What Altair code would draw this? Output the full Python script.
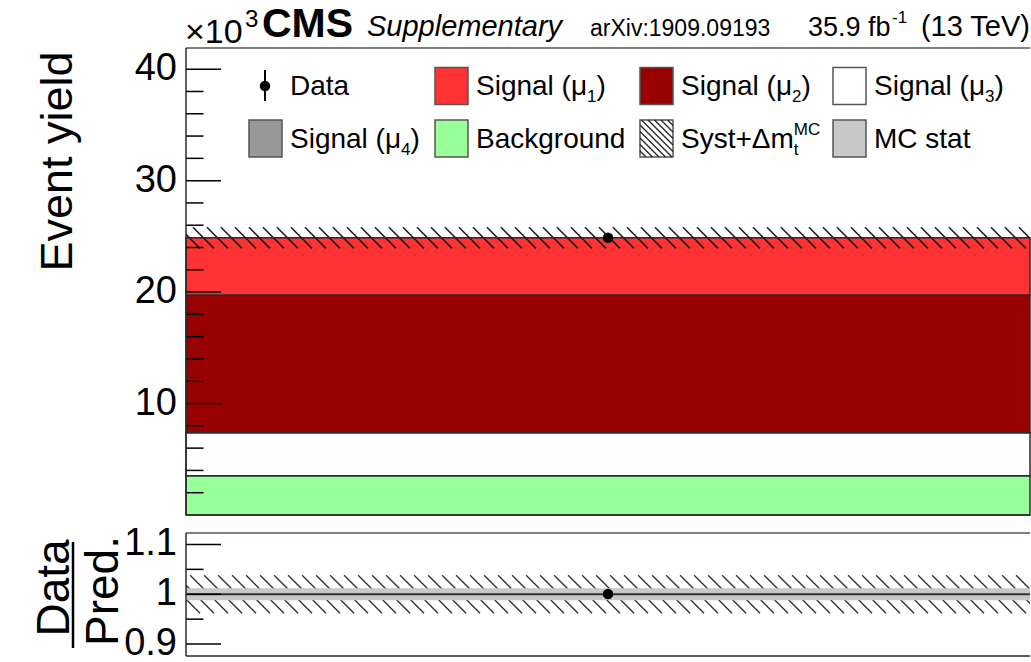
import altair as alt
import numpy as np
import pandas as pd

FONT = "Liberation Sans"

# ---------------- single-bin yields (units of 10^3 events), stacked bottom -> top
processes = ["Background", "Signal (μ3)", "Signal (μ2)", "Signal (μ1)"]
yields = [3.52, 3.86, 12.35, 5.14]
process_colors = ["#99ff99", "#ffffff", "#990000", "#ff3333"]
data_yield = 24.88
syst_rel = 0.038      # Syst + Δm_t^MC (relative)
mcstat_rel = 0.012    # MC statistical uncertainty (relative)

# axis ranges and ticks
y_max = 41.9
ratio_min, ratio_max = 0.876, 1.123
y_major = [10, 20, 30, 40]
y_major_labels = ["10", "20", "30", "40"]
y_minor = [2, 4, 6, 8, 12, 14, 16, 18, 22, 24, 26, 28, 32, 34, 36, 38]
r_major = [0.9, 1.0, 1.1]
r_major_labels = ["0.9", "1", "1.1"]
r_minor = [0.95, 1.05]

# ---------------- layout (pixels)
W, H_TOP, H_RAT, GAP = 844, 467, 123, 18
LEFT, TOP = 186, 48
TICK_MAJ, TICK_MIN = 35, 17.5
HATCH_STEP = 14
EDGE = "#2b2b2b"

total = float(np.sum(yields))
data_err = np.sqrt(data_yield * 1000.0) / 1000.0
hi_cum = np.cumsum(yields)
lo_cum = hi_cum - np.array(yields)

xs = alt.Scale(domain=[0, 1], nice=False, zero=False)
ys = alt.Scale(domain=[0, y_max], nice=False, zero=False)
rs = alt.Scale(domain=[ratio_min, ratio_max], nice=False, zero=False)


def one():
    return pd.DataFrame({"k": [0]})


def hatch_lines(lo, hi, band_px):
    """Back-slash hatch segments covering [lo, hi] across the full bin."""
    dxu = band_px / W
    starts = np.arange(-dxu, 1.0, HATCH_STEP / W)
    return pd.DataFrame({"xa": starts, "xb": starts + dxu, "ya": hi, "yb": lo})


def frame(h):
    top = alt.Chart(one()).mark_rule(color="#555", strokeWidth=1.5).encode(
        x=alt.value(0), x2=alt.value(W), y=alt.value(0))
    bot = alt.Chart(one()).mark_rule(color=EDGE, strokeWidth=1.5).encode(
        x=alt.value(0), x2=alt.value(W), y=alt.value(h))
    left = alt.Chart(one()).mark_rule(color=EDGE, strokeWidth=1.5).encode(
        x=alt.value(0), y=alt.value(0), y2=alt.value(h))
    return [top, bot, left]


def ticks(vals, scale, length):
    return alt.Chart(pd.DataFrame({"v": vals})).mark_rule(color="black", strokeWidth=1.5).encode(
        x=alt.value(0), x2=alt.value(length), y=alt.Y("v:Q", scale=scale, axis=None))


def tick_labels(vals, labels, scale):
    return alt.Chart(pd.DataFrame({"v": vals, "t": labels})).mark_text(
        align="right", baseline="middle", font=FONT, fontSize=38, color="black").encode(
        x=alt.value(-9), y=alt.Y("v:Q", scale=scale, axis=None), text="t:N")


def texts(rows, **kw):
    df = pd.DataFrame(rows, columns=["px", "py", "t", "fs"])
    opts = dict(font=FONT, color="black", align="left", baseline="alphabetic")
    opts.update(kw)
    return alt.Chart(df).mark_text(**opts).encode(
        x=alt.X("px:Q", scale=None), y=alt.Y("py:Q", scale=None),
        text="t:N", size=alt.Size("fs:Q", scale=None, legend=None))


# ---------------- main panel
stack = pd.DataFrame({"process": processes, "lo": lo_cum, "hi": hi_cum, "x0": 0.0, "x1": 1.0})
bars = alt.Chart(stack).mark_rect(stroke=EDGE, strokeWidth=1.5).encode(
    x=alt.X("x0:Q", scale=xs, axis=None), x2="x1:Q",
    y=alt.Y("lo:Q", scale=ys, axis=None), y2="hi:Q",
    color=alt.Color("process:N", scale=alt.Scale(domain=processes, range=process_colors), legend=None))

band_lo, band_hi = total * (1 - syst_rel), total * (1 + syst_rel)
band_px = (band_hi - band_lo) / y_max * H_TOP
hatch_top = alt.Chart(hatch_lines(band_lo, band_hi, band_px)).mark_rule(
    clip=True, color="#1e1e1e", strokeWidth=1.6).encode(
    x=alt.X("xa:Q", scale=xs, axis=None), x2="xb:Q",
    y=alt.Y("ya:Q", scale=ys, axis=None), y2="yb:Q")

pt = pd.DataFrame({"x": [0.5], "y": [data_yield], "lo": [data_yield - data_err], "hi": [data_yield + data_err]})
data_err_top = alt.Chart(pt).mark_rule(color="black", strokeWidth=2).encode(
    x=alt.X("x:Q", scale=xs, axis=None), y=alt.Y("lo:Q", scale=ys, axis=None), y2="hi:Q")
data_pt_top = alt.Chart(pt).mark_point(filled=True, color="black", opacity=1, size=110).encode(
    x=alt.X("x:Q", scale=xs, axis=None), y=alt.Y("y:Q", scale=ys, axis=None))

# legend: 4 columns x 2 rows
col_box = [63, 249, 454, 647]
row_mid = [38, 90.5]
BOX_W, BOX_H = 33, 37
legend_boxes = pd.DataFrame({
    "bx": [col_box[1], col_box[2], col_box[3], col_box[0], col_box[1], col_box[2], col_box[3]],
    "by": [row_mid[0], row_mid[0], row_mid[0], row_mid[1], row_mid[1], row_mid[1], row_mid[1]],
    "fill": ["#ff3333", "#990000", "#ffffff", "#999999", "#99ff99", "#ffffff", "#c8c8c8"],
})
legend_boxes["x0"] = legend_boxes["bx"]
legend_boxes["x1"] = legend_boxes["bx"] + BOX_W
legend_boxes["y0"] = legend_boxes["by"] - BOX_H / 2
legend_boxes["y1"] = legend_boxes["by"] + BOX_H / 2
leg_rects = alt.Chart(legend_boxes).mark_rect(stroke="#555", strokeWidth=1.5).encode(
    x=alt.X("x0:Q", scale=None), x2="x1:Q", y=alt.Y("y0:Q", scale=None), y2="y1:Q",
    fill=alt.Fill("fill:N", scale=None))

# hatch inside the Syst legend box
hx0, hy0 = col_box[2], row_mid[1] - BOX_H / 2
segs = []
for c in np.arange(-BOX_H + 6, BOX_W, 6.5):
    t0 = max(0.0, -c)
    t1 = min(BOX_H, BOX_W - c)
    if t1 - t0 > 1:
        segs.append((hx0 + c + t0, hy0 + t0, hx0 + c + t1, hy0 + t1))
leg_hatch = alt.Chart(pd.DataFrame(segs, columns=["xa", "ya", "xb", "yb"])).mark_rule(
    color="#222", strokeWidth=1.2).encode(
    x=alt.X("xa:Q", scale=None), y=alt.Y("ya:Q", scale=None), x2="xb:Q", y2="yb:Q")

leg_data_bar = alt.Chart(one()).mark_rule(color="black", strokeWidth=2).encode(
    x=alt.value(79), y=alt.value(22), y2=alt.value(53))
leg_data_pt = alt.Chart(one()).mark_point(
    filled=True, color="black", opacity=1, size=110).encode(x=alt.value(79), y=alt.value(38))

FS = 28
SUB = 17
rb = [47, 100]          # legend text baselines
tx = [c + 41 for c in col_box]
w_sig = 3.966 * FS      # width of "Signal (μ"
w_sub = 0.556 * SUB
w_syst = 4.03 * FS      # width of "Syst+Δm"
legend_text = texts([
    (tx[0], rb[0], "Data", FS),
    (tx[1], rb[0], "Signal (μ", FS), (tx[1] + w_sig, rb[0] + 7, "1", SUB), (tx[1] + w_sig + w_sub, rb[0], ")", FS),
    (tx[2], rb[0], "Signal (μ", FS), (tx[2] + w_sig, rb[0] + 7, "2", SUB), (tx[2] + w_sig + w_sub, rb[0], ")", FS),
    (tx[3], rb[0], "Signal (μ", FS), (tx[3] + w_sig, rb[0] + 7, "3", SUB), (tx[3] + w_sig + w_sub, rb[0], ")", FS),
    (tx[0], rb[1], "Signal (μ", FS), (tx[0] + w_sig, rb[1] + 7, "4", SUB), (tx[0] + w_sig + w_sub, rb[1], ")", FS),
    (tx[1], rb[1], "Background", FS),
    (tx[2], rb[1], "Syst+Δm", FS), (tx[2] + w_syst, rb[1] + 7, "t", SUB), (tx[2] + w_syst, rb[1] - 13, "MC", SUB),
    (tx[3], rb[1], "MC stat", FS),
])

# header line above the frame
header = texts([
    (-1, -5, "×10", 34), (59, -21, "3", 24),
    (404, -12, "arXiv:1909.09193", 23),
    (622, -12, "35.9 fb", 27), (706, -25, "-1", 17),
])
header_bold = texts([(76, -11, "CMS", 41)], fontWeight="bold")
header_italic = texts([(181, -12, "Supplementary", 29)], fontStyle="italic")
header_right = texts([(W, -12, "(13 TeV)", 29)], align="right")

y_title = alt.Chart(pd.DataFrame({"t": ["Event yield"]})).mark_text(
    font=FONT, fontSize=45, angle=270, align="center", baseline="alphabetic", color="black").encode(
    x=alt.value(-114), y=alt.value(113.5), text="t:N")

# white anchor pinning the drawing's top-left corner
anchor = alt.Chart(one()).mark_rule(color="white", strokeWidth=1).encode(
    x=alt.value(-LEFT + 0.5), y=alt.value(-TOP + 0.5), y2=alt.value(-TOP + 3))

top = alt.layer(
    anchor, bars, hatch_top, data_err_top, data_pt_top,
    ticks(y_major, ys, TICK_MAJ), ticks(y_minor, ys, TICK_MIN),
    tick_labels(y_major, y_major_labels, ys),
    *frame(H_TOP),
    leg_rects, leg_hatch, leg_data_bar, leg_data_pt, legend_text,
    header, header_bold, header_italic, header_right, y_title,
).properties(width=W, height=H_TOP)

# ---------------- ratio panel
r_band_lo, r_band_hi = 1 - syst_rel, 1 + syst_rel
r_band_px = (r_band_hi - r_band_lo) / (ratio_max - ratio_min) * H_RAT
hatch_rat = alt.Chart(hatch_lines(r_band_lo, r_band_hi, r_band_px)).mark_rule(
    clip=True, color="#333", strokeWidth=1.4).encode(
    x=alt.X("xa:Q", scale=xs, axis=None), x2="xb:Q",
    y=alt.Y("ya:Q", scale=rs, axis=None), y2="yb:Q")

mc_band = alt.Chart(pd.DataFrame({"x0": [0.0], "x1": [1.0], "lo": [1 - mcstat_rel], "hi": [1 + mcstat_rel]})).mark_rect(
    color="#c8c8c8").encode(
    x=alt.X("x0:Q", scale=xs, axis=None), x2="x1:Q",
    y=alt.Y("lo:Q", scale=rs, axis=None), y2="hi:Q")

unity = alt.Chart(pd.DataFrame({"v": [1.0]})).mark_rule(color="#333", strokeWidth=2).encode(
    x=alt.value(0), x2=alt.value(W), y=alt.Y("v:Q", scale=rs, axis=None))

ratio_val = data_yield / total
rpt = pd.DataFrame({"x": [0.5], "y": [ratio_val], "lo": [(data_yield - data_err) / total], "hi": [(data_yield + data_err) / total]})
ratio_err = alt.Chart(rpt).mark_rule(color="black", strokeWidth=2).encode(
    x=alt.X("x:Q", scale=xs, axis=None), y=alt.Y("lo:Q", scale=rs, axis=None), y2="hi:Q")
ratio_pt = alt.Chart(rpt).mark_point(filled=True, color="black", opacity=1, size=110).encode(
    x=alt.X("x:Q", scale=xs, axis=None), y=alt.Y("y:Q", scale=rs, axis=None))

r_title = alt.Chart(pd.DataFrame({"t": ["Data", "Pred."], "px": [-117, -68], "py": [55, 58]})).mark_text(
    font=FONT, fontSize=46, angle=270, align="center", baseline="alphabetic", color="black").encode(
    x=alt.X("px:Q", scale=None), y=alt.Y("py:Q", scale=None), text="t:N")
r_bar = alt.Chart(one()).mark_rule(color="black", strokeWidth=2.5).encode(
    x=alt.value(-113), y=alt.value(9), y2=alt.value(115))

bottom = alt.layer(
    hatch_rat, mc_band, unity, ratio_err, ratio_pt,
    ticks(r_major, rs, TICK_MAJ), ticks(r_minor, rs, TICK_MIN),
    tick_labels(r_major, r_major_labels, rs),
    *frame(H_RAT), r_title, r_bar,
).properties(width=W, height=H_RAT)

chart = alt.vconcat(top, bottom, spacing=GAP, bounds="flush").properties(
    padding=0,
).configure_view(stroke=None)

chart.save("out.html", embed_options={"renderer": "svg", "actions": False})
